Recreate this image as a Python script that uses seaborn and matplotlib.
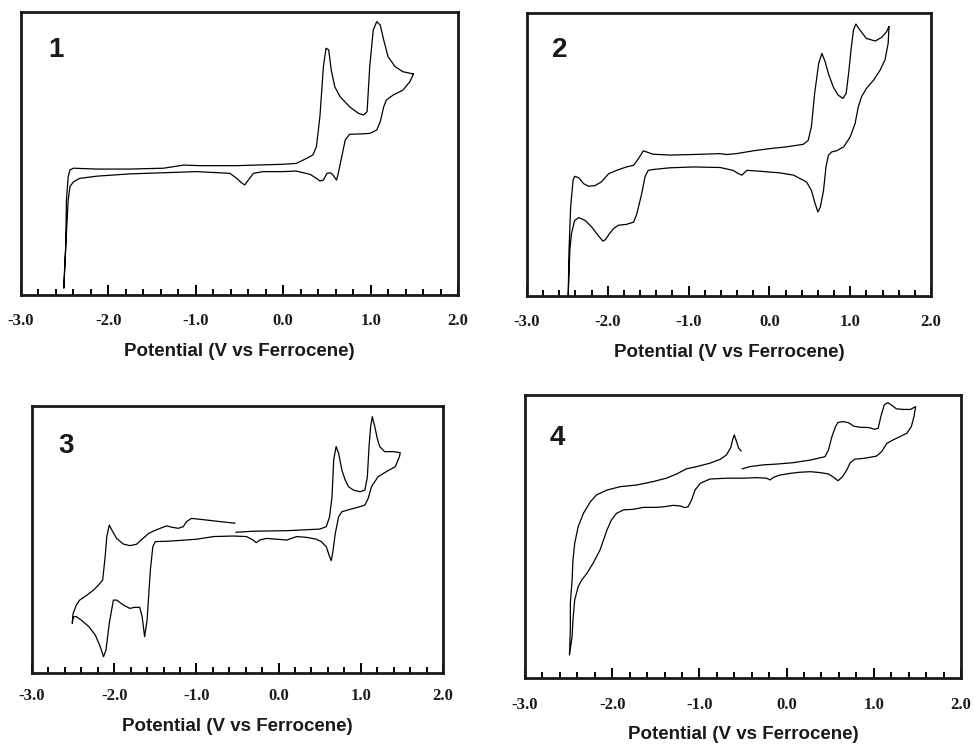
import numpy as np
import pandas as pd
import matplotlib
matplotlib.use("Agg")
import matplotlib.pyplot as plt
from matplotlib.ticker import MultipleLocator
import seaborn as sns

# ---------------- data (potential in V vs Fc, current in relative units) ----------------
x_ticks = [-3.0, -2.0, -1.0, 0.0, 1.0, 2.0]
x_tick_labels = ["-3.0", "-2.0", "-1.0", "0.0", "1.0", "2.0"]
x_label = "Potential (V vs Ferrocene)"
panel_names = ["1", "2", "3", "4"]

cv1_potential = [1.49, 1.45, 1.37, 1.26, 1.18, 1.15, 1.11, 1.07, 0.99, 0.88, 0.76, 0.71, 0.67, 0.63,
                 0.61, 0.57, 0.54, 0.50, 0.46, 0.42, 0.38, 0.31, 0.15, 0.00, -0.23, -0.34, -0.40, -0.44,
                 -0.48, -0.53, -0.61, -0.99, -1.37, -1.75, -2.13, -2.33, -2.40, -2.44, -2.46, -2.48,
                 -2.50, -2.51, -2.49, -2.48, -2.46, -2.44, -2.40, -2.13, -1.75, -1.37, -1.14, -0.95,
                 -0.53, 0.00, 0.15, 0.27, 0.34, 0.38, 0.42, 0.46, 0.49, 0.52, 0.55, 0.59, 0.65, 0.76,
                 0.86, 0.92, 0.96, 0.99, 1.03, 1.07, 1.11, 1.15, 1.20, 1.28, 1.37, 1.49]
cv1_current = [0.781, 0.754, 0.724, 0.707, 0.689, 0.665, 0.612, 0.583, 0.571, 0.569, 0.568, 0.548,
               0.489, 0.430, 0.406, 0.424, 0.432, 0.430, 0.406, 0.403, 0.412, 0.426, 0.438, 0.436,
               0.436, 0.430, 0.406, 0.389, 0.397, 0.412, 0.430, 0.436, 0.432, 0.428, 0.420, 0.412,
               0.400, 0.383, 0.336, 0.218, 0.100, 0.024, 0.159, 0.336, 0.418, 0.442, 0.448, 0.445,
               0.445, 0.448, 0.459, 0.457, 0.457, 0.462, 0.465, 0.483, 0.495, 0.524, 0.630, 0.807,
               0.872, 0.866, 0.795, 0.736, 0.701, 0.665, 0.642, 0.636, 0.648, 0.807, 0.936, 0.966,
               0.954, 0.901, 0.842, 0.807, 0.789, 0.781]

cv2_potential = [1.48, 1.47, 1.43, 1.37, 1.29, 1.20, 1.14, 1.10, 1.06, 1.00, 0.92, 0.83, 0.77, 0.73,
                 0.70, 0.67, 0.63, 0.60, 0.56, 0.52, 0.46, 0.30, 0.13, -0.12, -0.28, -0.34, -0.38,
                 -0.45, -0.61, -0.94, -1.23, -1.44, -1.50, -1.54, -1.58, -1.64, -1.68, -1.77, -1.87,
                 -1.93, -1.98, -2.03, -2.06, -2.12, -2.20, -2.28, -2.36, -2.41, -2.45, -2.47, -2.49,
                 -2.48, -2.46, -2.43, -2.41, -2.36, -2.30, -2.24, -2.16, -2.08, -1.99, -1.89, -1.77,
                 -1.68, -1.62, -1.56, -1.52, -1.44, -1.23, -0.94, -0.61, -0.53, -0.41, -0.20, 0.01,
                 0.21, 0.42, 0.48, 0.52, 0.56, 0.61, 0.65, 0.69, 0.73, 0.79, 0.85, 0.91, 0.95, 0.98,
                 1.01, 1.04, 1.07, 1.12, 1.20, 1.31, 1.39, 1.45, 1.48]
cv2_current = [0.952, 0.893, 0.834, 0.798, 0.763, 0.733, 0.704, 0.668, 0.609, 0.562, 0.527, 0.513,
               0.509, 0.497, 0.456, 0.373, 0.314, 0.297, 0.332, 0.373, 0.403, 0.427, 0.435, 0.441,
               0.444, 0.427, 0.432, 0.444, 0.454, 0.456, 0.453, 0.447, 0.444, 0.421, 0.362, 0.291,
               0.261, 0.253, 0.250, 0.238, 0.220, 0.199, 0.194, 0.214, 0.244, 0.267, 0.277, 0.267,
               0.220, 0.161, 0.002, 0.161, 0.314, 0.409, 0.423, 0.418, 0.397, 0.388, 0.390, 0.403,
               0.432, 0.444, 0.456, 0.462, 0.486, 0.513, 0.509, 0.501, 0.498, 0.500, 0.503, 0.500,
               0.503, 0.513, 0.521, 0.527, 0.536, 0.550, 0.598, 0.716, 0.822, 0.857, 0.828, 0.786,
               0.739, 0.710, 0.698, 0.716, 0.786, 0.869, 0.940, 0.961, 0.940, 0.910, 0.901, 0.914,
               0.934, 0.952]

cv3_potential = [-0.52, -0.31, 0.10, 0.30, 0.50, 0.58, 0.62, 0.65, 0.67, 0.70, 0.73, 0.77, 0.81, 0.85,
                 0.91, 0.99, 1.05, 1.08, 1.10, 1.12, 1.14, 1.17, 1.20, 1.23, 1.29, 1.40, 1.48, 1.47,
                 1.42, 1.31, 1.21, 1.13, 1.09, 1.05, 0.99, 0.87, 0.77, 0.73, 0.69, 0.66, 0.64, 0.62,
                 0.58, 0.52, 0.46, 0.34, 0.22, 0.10, -0.02, -0.15, -0.23, -0.27, -0.31, -0.39, -0.55,
                 -0.79, -1.00, -1.32, -1.50, -1.53, -1.56, -1.60, -1.63, -1.66, -1.69, -1.75, -1.81,
                 -1.89, -1.97, -2.01, -2.06, -2.10, -2.13, -2.17, -2.23, -2.31, -2.40, -2.46, -2.50,
                 -2.51, -2.50, -2.46, -2.42, -2.33, -2.25, -2.19, -2.14, -2.11, -2.09, -2.06, -2.03,
                 -1.97, -1.89, -1.81, -1.73, -1.65, -1.58, -1.52, -1.44, -1.36, -1.30, -1.22, -1.16,
                 -1.12, -1.06, -0.88, -0.71, -0.53]
cv3_current = [0.527, 0.531, 0.533, 0.536, 0.539, 0.548, 0.585, 0.660, 0.798, 0.848, 0.823, 0.760,
               0.723, 0.698, 0.685, 0.679, 0.685, 0.735, 0.848, 0.923, 0.960, 0.923, 0.879, 0.848,
               0.829, 0.829, 0.825, 0.810, 0.773, 0.754, 0.735, 0.698, 0.654, 0.629, 0.623, 0.613,
               0.604, 0.585, 0.523, 0.454, 0.421, 0.436, 0.473, 0.492, 0.501, 0.508, 0.511, 0.498,
               0.501, 0.504, 0.498, 0.488, 0.498, 0.511, 0.513, 0.511, 0.501, 0.494, 0.492, 0.473,
               0.386, 0.198, 0.136, 0.211, 0.246, 0.246, 0.242, 0.255, 0.273, 0.273, 0.186, 0.086,
               0.061, 0.099, 0.142, 0.174, 0.198, 0.211, 0.211, 0.186, 0.223, 0.255, 0.273, 0.292,
               0.311, 0.330, 0.348, 0.436, 0.511, 0.554, 0.536, 0.504, 0.483, 0.477, 0.482, 0.504,
               0.523, 0.532, 0.542, 0.551, 0.546, 0.542, 0.548, 0.567, 0.579, 0.573, 0.567, 0.561]

cv4_potential = [-0.51, -0.42, -0.27, -0.11, 0.08, 0.27, 0.44, 0.48, 0.52, 0.56, 0.59, 0.65, 0.71, 0.77,
                 0.84, 0.94, 1.01, 1.05, 1.08, 1.12, 1.16, 1.20, 1.26, 1.34, 1.42, 1.48, 1.46, 1.43,
                 1.38, 1.30, 1.22, 1.15, 1.09, 1.03, 0.96, 0.88, 0.78, 0.73, 0.69, 0.64, 0.59, 0.54,
                 0.48, 0.38, 0.27, 0.15, 0.04, -0.08, -0.15, -0.19, -0.23, -0.34, -0.50, -0.69, -0.88,
                 -0.99, -1.05, -1.09, -1.13, -1.17, -1.22, -1.30, -1.41, -1.49, -1.64, -1.76, -1.87,
                 -1.95, -2.01, -2.06, -2.14, -2.22, -2.29, -2.35, -2.39, -2.43, -2.45, -2.46, -2.49,
                 -2.48, -2.48, -2.46, -2.45, -2.43, -2.39, -2.33, -2.25, -2.18, -2.06, -1.91, -1.72,
                 -1.53, -1.38, -1.26, -1.15, -1.03, -0.88, -0.76, -0.69, -0.64, -0.62, -0.60, -0.58,
                 -0.55, -0.52]
cv4_current = [0.739, 0.747, 0.753, 0.756, 0.761, 0.770, 0.782, 0.806, 0.853, 0.888, 0.903, 0.906,
               0.902, 0.890, 0.886, 0.885, 0.879, 0.882, 0.923, 0.965, 0.973, 0.965, 0.951, 0.949,
               0.949, 0.959, 0.923, 0.888, 0.865, 0.853, 0.841, 0.829, 0.800, 0.784, 0.780, 0.776,
               0.773, 0.761, 0.735, 0.711, 0.697, 0.709, 0.721, 0.726, 0.729, 0.727, 0.723, 0.717,
               0.709, 0.700, 0.706, 0.708, 0.706, 0.706, 0.703, 0.688, 0.664, 0.629, 0.605, 0.602,
               0.608, 0.610, 0.605, 0.603, 0.603, 0.596, 0.594, 0.582, 0.558, 0.523, 0.452, 0.405,
               0.370, 0.346, 0.323, 0.276, 0.205, 0.146, 0.081, 0.170, 0.264, 0.346, 0.417, 0.476,
               0.535, 0.582, 0.623, 0.647, 0.664, 0.676, 0.682, 0.694, 0.706, 0.721, 0.739, 0.747,
               0.759, 0.773, 0.788, 0.815, 0.841, 0.859, 0.841, 0.812, 0.802]

# ---------------- styling ----------------
sns.set_theme(style="white")
plt.rcParams["font.family"] = ["DejaVu Sans"]
plt.rcParams["axes.unicode_minus"] = False

fig = plt.figure(figsize=(9.74, 7.47), dpi=100)

# axes rectangles [left, bottom, width, height] in figure fractions
rects = [
    [21 / 974, 1 - 295 / 747, 437 / 974, 283 / 747],
    [527 / 974, 1 - 296 / 747, 404 / 974, 283 / 747],
    [32 / 974, 1 - 673 / 747, 411 / 974, 267 / 747],
    [525 / 974, 1 - 678 / 747, 436 / 974, 283 / 747],
]
tick_pads = [13, 13, 10.5, 13.5]
label_pos = [(0.062, 0.912), (0.062, 0.915), (0.063, 0.899), (0.057, 0.894)]

curves = [
    (cv1_potential, cv1_current),
    (cv2_potential, cv2_current),
    (cv3_potential, cv3_current),
    (cv4_potential, cv4_current),
]

for i, ((pot, cur), rect) in enumerate(zip(curves, rects)):
    ax = fig.add_axes(rect)
    df = pd.DataFrame({"potential": pot, "current": cur})
    sns.lineplot(data=df, x="potential", y="current", sort=False, estimator=None,
                 color="black", linewidth=0.9, ax=ax)
    ax.set_xlim(-3.0, 2.0)
    ax.set_ylim(0.0, 1.0)
    ax.set_yticks([])
    ax.set_ylabel("")
    ax.set_xticks(x_ticks)
    ax.set_xticklabels(x_tick_labels, family="Liberation Serif", fontweight="bold", fontsize=12,
                       color="#1a1a1a")
    ax.xaxis.set_minor_locator(MultipleLocator(0.2))
    ax.tick_params(axis="x", which="major", direction="in", length=7, width=1.4,
                   color="black", pad=tick_pads[i], bottom=True, top=False)
    ax.tick_params(axis="x", which="minor", direction="in", length=4, width=1.4,
                   color="black", bottom=True, top=False)
    for sp in ax.spines.values():
        sp.set_visible(True)
        sp.set_color("#1a1a1a")
        sp.set_linewidth(2.0)
    ax.set_xlabel(x_label, family="Liberation Sans", fontweight="bold", fontsize=13.5,
                  color="#1a1a1a")
    ax.xaxis.set_label_coords(0.5, -0.20)
    ax.xaxis.label.set_va("center")
    ax.text(label_pos[i][0], label_pos[i][1], panel_names[i], transform=ax.transAxes,
            ha="left", va="top", family="Liberation Sans", fontweight="bold",
            fontsize=20, color="#1a1a1a")

fig.savefig("out.png", dpi=100, facecolor="white")
